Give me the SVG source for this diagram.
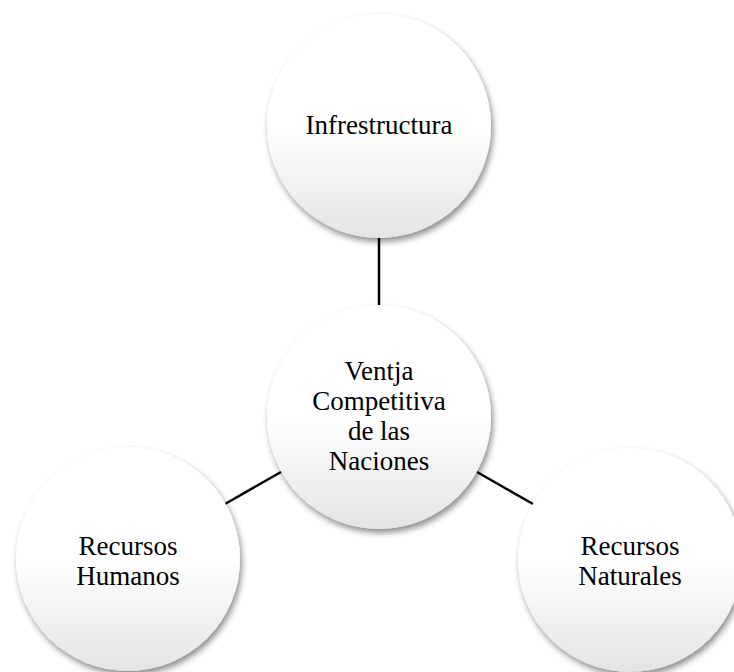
<svg xmlns="http://www.w3.org/2000/svg" width="734" height="672" viewBox="0 0 734 672">
<style>
.node circle{fill:url(#g);filter:url(#sh)}
.node text{font-family:"Liberation Serif","Times New Roman",serif;font-size:27px;fill:#000;text-anchor:middle}
.conn line{stroke:#000;stroke-width:2.5}
</style>
<defs>
<linearGradient id="g" x1="0" y1="0" x2="0" y2="1">
<stop offset="0" stop-color="#ffffff"/>
<stop offset="0.5" stop-color="#ffffff"/>
<stop offset="1" stop-color="#e4e4e4"/>
</linearGradient>
<filter id="sh" x="-20%" y="-20%" width="150%" height="150%">
<feGaussianBlur in="SourceAlpha" stdDeviation="3"/>
<feOffset dx="2" dy="4" result="b"/>
<feComponentTransfer><feFuncA type="linear" slope="0.45"/></feComponentTransfer>
<feMerge><feMergeNode/><feMergeNode in="SourceGraphic"/></feMerge>
</filter>
</defs>
<rect width="734" height="672" fill="#fff"/>
<g class="conn" id="connectors">
<line x1="379" y1="236" x2="379" y2="305"/>
<line x1="281" y1="472" x2="225" y2="504"/>
<line x1="477" y1="472" x2="533" y2="504"/>
</g>
<g class="node" id="infra">
<circle cx="379" cy="126" r="112"/>
<text x="379" y="134">Infrestructura</text>
</g>
<g class="node" id="center">
<circle cx="379" cy="417" r="112"/>
<text x="379" y="380">Ventja</text>
<text x="379" y="410">Competitiva</text>
<text x="379" y="440">de las</text>
<text x="379" y="470">Naciones</text>
</g>
<g class="node" id="humanos">
<circle cx="128" cy="559" r="112"/>
<text x="128" y="555">Recursos</text>
<text x="128" y="585">Humanos</text>
</g>
<g class="node" id="naturales">
<circle cx="630" cy="560" r="112"/>
<text x="630" y="555">Recursos</text>
<text x="630" y="585">Naturales</text>
</g>
</svg>
